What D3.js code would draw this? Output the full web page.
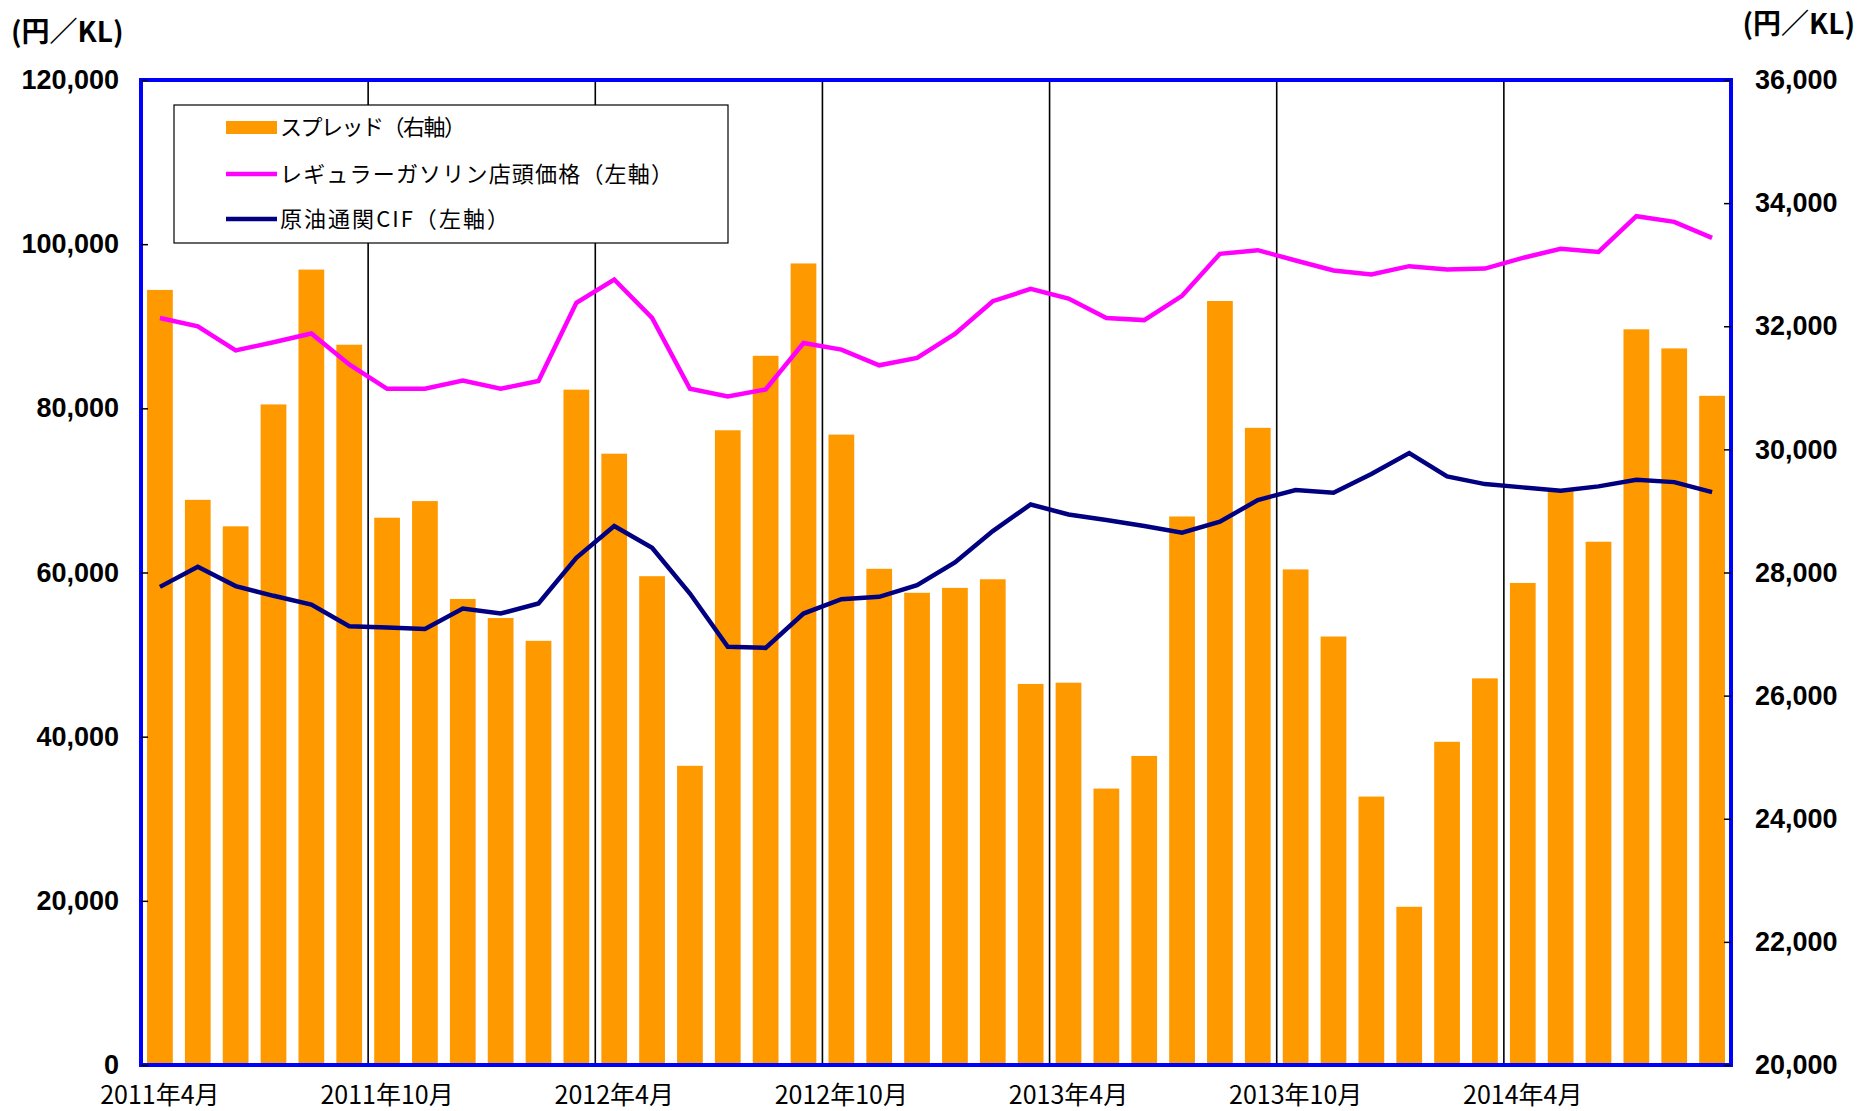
<html lang="ja">
<head>
<meta charset="utf-8">
<title>スプレッド推移</title>
<script src="https://d3js.org/d3.v7.min.js"></script>
<style>
  body { margin: 0; background: #fff; }
  svg text { fill: #000; }
  .num { font-family: "Liberation Sans", Arial, sans-serif; font-weight: bold; font-size: 27px; }
  .jp { font-family: "Noto Sans CJK JP", sans-serif; }
</style>
</head>
<body>
<svg id="chart"></svg>
<script>
// months, 2011/4 .. 2014/9
var months = [
  "2011-04","2011-05","2011-06","2011-07","2011-08","2011-09",
  "2011-10","2011-11","2011-12","2012-01","2012-02","2012-03",
  "2012-04","2012-05","2012-06","2012-07","2012-08","2012-09",
  "2012-10","2012-11","2012-12","2013-01","2013-02","2013-03",
  "2013-04","2013-05","2013-06","2013-07","2013-08","2013-09",
  "2013-10","2013-11","2013-12","2014-01","2014-02","2014-03",
  "2014-04","2014-05","2014-06","2014-07","2014-08","2014-09"
];

// スプレッド (right axis)
var spread = [
  32590, 29180, 28750, 30730, 32920, 31700, 28890, 29160, 27570, 27260, 26890, 30970,
  29930, 27940, 24860, 30310, 31520, 33020, 30240, 28060, 27670, 27750, 27890, 26190,
  26210, 24490, 25020, 28910, 32410, 30350, 28050, 26960, 24360, 22570, 25250, 26280,
  27830, 29330, 28500, 31950, 31640, 30870
];

// レギュラーガソリン店頭価格 (left axis)
var gasoline = [
  91000, 90000, 87050, 88050, 89110, 85350, 82380, 82380, 83380, 82380, 83330, 92850,
  95690, 91010, 82380, 81460, 82300, 87960, 87150, 85240, 86140, 89070, 93050, 94550,
  93380, 91010, 90750, 93700, 98820, 99270, 98010, 96790, 96300, 97320, 96910, 97030,
  98330, 99430, 99060, 103410, 102720, 100770
];

// 原油通関CIF (left axis)
var crudeCif = [
  58250, 60690, 58340, 57160, 56100, 53460, 53290, 53130, 55610, 55000, 56220, 61790,
  65660, 63010, 57440, 50940, 50820, 55000, 56750, 57040, 58460, 61220, 65050, 68290,
  67070, 66390, 65660, 64840, 66180, 68830, 70050, 69720, 71990, 74550, 71710, 70770,
  70370, 69960, 70490, 71300, 71010, 69800
];

var xTickLabels = ["2011年4月", "2011年10月", "2012年4月", "2012年10月", "2013年4月", "2013年10月", "2014年4月"];
var leftTicks = [0, 20000, 40000, 60000, 80000, 100000, 120000];
var rightTicks = [20000, 22000, 24000, 26000, 28000, 30000, 32000, 34000, 36000];
var legendLabels = ["スプレッド（右軸）", "レギュラーガソリン店頭価格（左軸）", "原油通関CIF（左軸）"];

var W = 1869, H = 1111;
var plot = {left: 141, right: 1731, top: 80, bottom: 1065};

var svg = d3.select("#chart").attr("width", W).attr("height", H);

var x = d3.scaleBand()
    .domain(months)
    .range([plot.left, plot.right])
    .paddingInner(0.32)
    .paddingOuter(0.16);
var xEdge = d3.scaleLinear().domain([0, months.length]).range([plot.left, plot.right]);
var yLeft = d3.scaleLinear().domain([0, 120000]).range([plot.bottom, plot.top]);
var yRight = d3.scaleLinear().domain([20000, 36000]).range([plot.bottom, plot.top]);

function cx(d, i) { return x(months[i]) + x.bandwidth() / 2; }

// half-year separators
svg.append("g").selectAll("line")
  .data(d3.range(6, months.length, 6))
  .join("line")
    .attr("x1", function (d) { return xEdge(d); })
    .attr("x2", function (d) { return xEdge(d); })
    .attr("y1", plot.top)
    .attr("y2", plot.bottom)
    .attr("stroke", "#000")
    .attr("stroke-width", 1.6);

// bars
svg.append("g").selectAll("rect")
  .data(spread)
  .join("rect")
    .attr("x", function (d, i) { return x(months[i]); })
    .attr("width", x.bandwidth())
    .attr("y", function (d) { return yRight(d); })
    .attr("height", function (d) { return plot.bottom - yRight(d); })
    .attr("fill", "#FF9900");

// lines
var lineLeft = d3.line()
    .x(function (d, i) { return cx(d, i); })
    .y(function (d) { return yLeft(d); });

svg.append("path")
    .datum(gasoline)
    .attr("d", lineLeft)
    .attr("fill", "none")
    .attr("stroke", "#FF00FF")
    .attr("stroke-width", 4.5);

svg.append("path")
    .datum(crudeCif)
    .attr("d", lineLeft)
    .attr("fill", "none")
    .attr("stroke", "#000080")
    .attr("stroke-width", 4.5);

// frame
svg.append("rect")
    .attr("x", plot.left)
    .attr("y", plot.top)
    .attr("width", plot.right - plot.left)
    .attr("height", plot.bottom - plot.top)
    .attr("fill", "none")
    .attr("stroke", "#0000FF")
    .attr("stroke-width", 4);

// axes
var fmt = d3.format(",");
var axL = svg.append("g")
    .attr("transform", "translate(" + plot.left + ",0)")
    .call(d3.axisLeft(yLeft).tickValues(leftTicks).tickFormat(fmt).tickSizeInner(-7).tickSizeOuter(0).tickPadding(22));
var axR = svg.append("g")
    .attr("transform", "translate(" + plot.right + ",0)")
    .call(d3.axisRight(yRight).tickValues(rightTicks).tickFormat(fmt).tickSizeInner(-7).tickSizeOuter(0).tickPadding(24));
[axL, axR].forEach(function (ax) {
  ax.select(".domain").remove();
  ax.selectAll(".tick line").attr("stroke", "#000").attr("stroke-width", 1.5);
  ax.selectAll(".tick text").attr("class", "num").attr("font-family", null).attr("font-size", null);
});

// x labels
svg.append("g").selectAll("text")
  .data(xTickLabels)
  .join("text")
    .attr("class", "jp")
    .attr("x", function (d, i) { return cx(null, i * 6); })
    .attr("y", 1095)
    .attr("dy", "0.35em")
    .attr("text-anchor", "middle")
    .attr("font-size", 25)
    .text(function (d) { return d; });

// units
svg.append("text").attr("class", "jp")
    .attr("x", 11).attr("y", 32).attr("dy", "0.35em")
    .attr("font-size", 28).attr("font-weight", "bold")
    .text("(円／KL)");
svg.append("text").attr("class", "jp")
    .attr("x", 1855).attr("y", 24).attr("dy", "0.35em")
    .attr("text-anchor", "end")
    .attr("font-size", 28).attr("font-weight", "bold")
    .text("(円／KL)");

// legend
var lg = svg.append("g").attr("transform", "translate(174,105)");
lg.append("rect")
    .attr("width", 554).attr("height", 138)
    .attr("fill", "#fff").attr("stroke", "#000").attr("stroke-width", 1.2);
var rowY = [22.5, 69, 114];
var rowLen = [186, 393, 229];
lg.append("rect").attr("x", 52).attr("y", rowY[0] - 6.5).attr("width", 51).attr("height", 13).attr("fill", "#FF9900");
lg.append("line").attr("x1", 52).attr("x2", 103).attr("y1", rowY[1]).attr("y2", rowY[1])
    .attr("stroke", "#FF00FF").attr("stroke-width", 4.5);
lg.append("line").attr("x1", 52).attr("x2", 103).attr("y1", rowY[2]).attr("y2", rowY[2])
    .attr("stroke", "#000080").attr("stroke-width", 4.5);
lg.selectAll("text.lab")
  .data(legendLabels)
  .join("text")
    .attr("class", "jp lab")
    .attr("x", 106)
    .attr("y", function (d, i) { return rowY[i]; })
    .attr("dy", "0.35em")
    .attr("font-size", 22)
    .attr("textLength", function (d, i) { return rowLen[i]; })
    .attr("lengthAdjust", "spacing")
    .text(function (d) { return d; });
</script>
</body>
</html>
